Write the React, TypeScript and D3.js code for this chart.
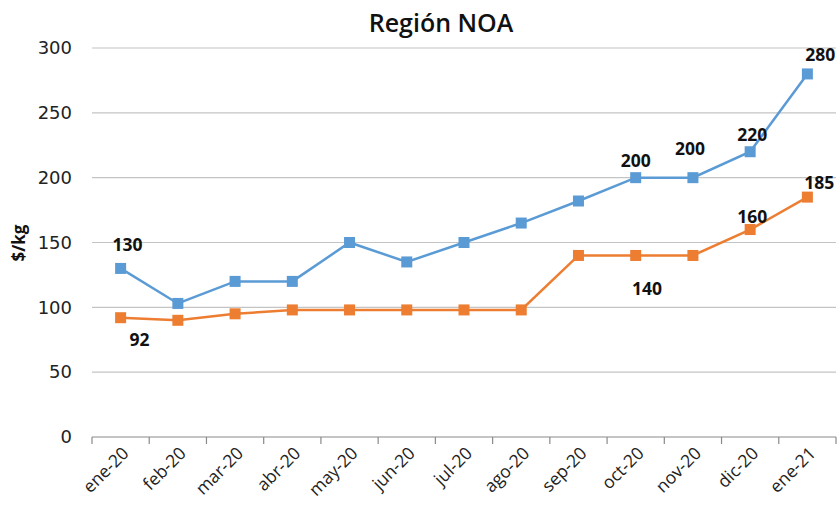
import React from "react";
import * as d3 from "d3";

const categories = ["ene-20", "feb-20", "mar-20", "abr-20", "may-20", "jun-20", "jul-20", "ago-20", "sep-20", "oct-20", "nov-20", "dic-20", "ene-21"];
const blueValues = [130, 103, 120, 120, 150, 135, 150, 165, 182, 200, 200, 220, 280];
const orangeValues = [92, 90, 95, 98, 98, 98, 98, 98, 140, 140, 140, 160, 185];
const yTicks = [0, 50, 100, 150, 200, 250, 300];
// indices of labelled points
const blueLabels = [0, 9, 10, 11, 12];
const orangeLabels = [0, 10, 11, 12];

const W = 838;
const H = 511;
const BLUE = "#5b9bd5";
const ORANGE = "#ed7d31";
const FONT = "'Open Sans', 'DejaVu Sans', sans-serif";

// label offsets (style, relative to point)
const blueOffsets: Record<number, [number, number]> = {
  0: [7, -24],
  9: [0, -17],
  10: [-3, -29],
  11: [2, -17],
  12: [13, -19],
};
const orangeOffsets: Record<number, [number, number]> = {
  0: [19, 22],
  10: [-46, 33],
  11: [2, -13],
  12: [12, -14],
};

export default function App() {
  const x = d3.scaleBand<string>().domain(categories).range([92, 836]);
  const y = d3.scaleLinear().domain([0, 300]).range([437, 48]);
  const cx = (i: number) => (x(categories[i]) as number) + x.bandwidth() / 2;
  const line = d3
    .line<number>()
    .x((_, i) => cx(i))
    .y((d) => y(d));
  const tickXs = categories.map((c) => x(c) as number).concat([x.range()[1]]);
  const ms = 11;

  return (
    <svg width={W} height={H} style={{ position: "absolute", left: 0, top: 0, background: "#fff" }}>
      <text x={441} y={32} textAnchor="middle" fontFamily={FONT} fontSize={25} fontWeight={600} fill="#111">
        Región NOA
      </text>
      {yTicks.map((t) => (
        <g key={t}>
          {t > 0 && <line x1={92} x2={836} y1={y(t)} y2={y(t)} stroke="#c4c4c4" strokeWidth={1.2} />}
          <text x={72} y={y(t)} dy="0.35em" textAnchor="end" fontFamily="'DejaVu Sans', sans-serif" fontSize={18} fill="#222">
            {t}
          </text>
        </g>
      ))}
      <line x1={92} x2={836} y1={y(0)} y2={y(0)} stroke="#8a8a8a" strokeWidth={1.2} />
      {tickXs.map((tx, i) => (
        <line key={i} x1={tx} x2={tx} y1={y(0)} y2={y(0) + 7} stroke="#8a8a8a" strokeWidth={1.2} />
      ))}
      {categories.map((c, i) => (
        <text
          key={c}
          transform={`translate(${cx(i) + 5},${y(0) + 13}) rotate(-45)`}
          textAnchor="end"
          dy="0.35em"
          fontFamily={FONT}
          fontSize={17.5}
          fill="#222"
        >
          {c}
        </text>
      ))}
      <text
        transform={`translate(25,243) rotate(-90)`}
        textAnchor="middle"
        fontFamily={FONT}
        fontSize={17}
        fontWeight={700}
        fill="#111"
      >
        $/kg
      </text>
      <path d={line(blueValues) as string} fill="none" stroke={BLUE} strokeWidth={2.5} />
      <path d={line(orangeValues) as string} fill="none" stroke={ORANGE} strokeWidth={2.5} />
      {blueValues.map((v, i) => (
        <rect key={"b" + i} x={cx(i) - ms / 2} y={y(v) - ms / 2} width={ms} height={ms} fill={BLUE} />
      ))}
      {orangeValues.map((v, i) => (
        <rect key={"o" + i} x={cx(i) - ms / 2} y={y(v) - ms / 2} width={ms} height={ms} fill={ORANGE} />
      ))}
      {blueLabels.map((i) => (
        <text
          key={"bl" + i}
          x={cx(i) + blueOffsets[i][0]}
          y={y(blueValues[i]) + blueOffsets[i][1]}
          dy="0.35em"
          textAnchor="middle"
          fontFamily={FONT}
          fontSize={17.5}
          fontWeight={700}
          fill="#111"
        >
          {blueValues[i]}
        </text>
      ))}
      {orangeLabels.map((i) => (
        <text
          key={"ol" + i}
          x={cx(i) + orangeOffsets[i][0]}
          y={y(orangeValues[i]) + orangeOffsets[i][1]}
          dy="0.35em"
          textAnchor="middle"
          fontFamily={FONT}
          fontSize={17.5}
          fontWeight={700}
          fill="#111"
        >
          {orangeValues[i]}
        </text>
      ))}
    </svg>
  );
}
